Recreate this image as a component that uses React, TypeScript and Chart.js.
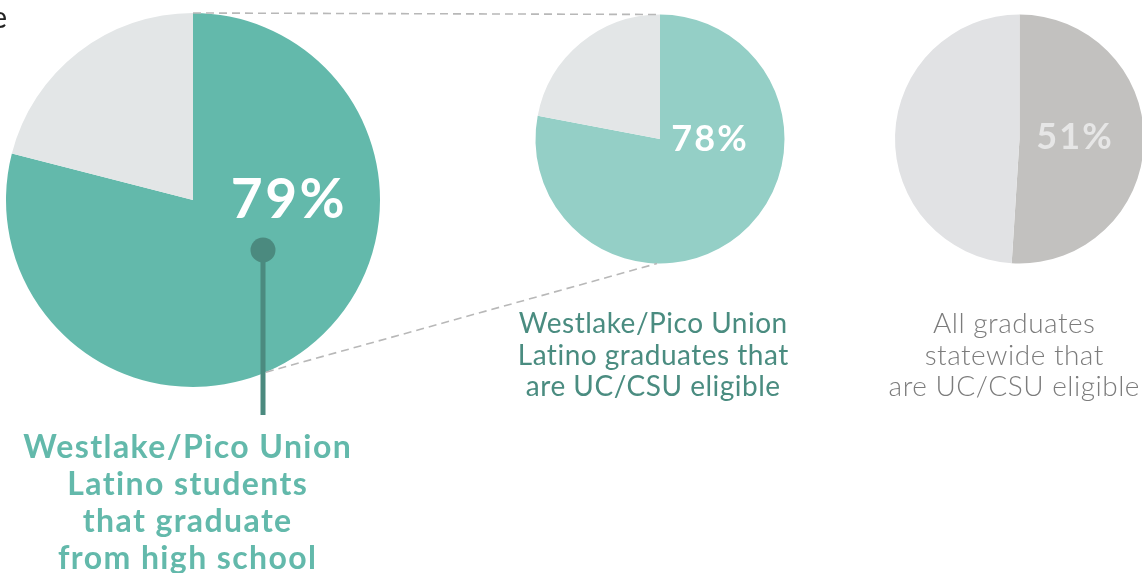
import React, { useEffect, useRef } from "react";
import { Chart, registerables } from "chart.js";

Chart.register(...registerables);

// ---- data ----
const categories = ["Yes", "No"];
const graduateValues = [79, 21];
const localEligibleValues = [78, 22];
const stateEligibleValues = [51, 49];
const centerLabels = ["79%", "78%", "51%"];
const graduateCaption = ["Westlake/Pico Union", "Latino students", "that graduate", "from high school"];
const localCaption = ["Westlake/Pico Union", "Latino graduates that", "are UC/CSU eligible"];
const stateCaption = ["All graduates", "statewide that", "are UC/CSU eligible"];
const headingFragment = "e";

// ---- layout ----
const W = 1142;
const H = 573;
const CW = 1160;
const P1 = { cx: 193, cy: 200, r: 187 };
const P2 = { cx: 660, cy: 139, r: 124.5 };
const P3 = { cx: 1019.5, cy: 139, r: 124.5 };
const FONT = "Lato, 'Noto Sans', sans-serif";

const pad = (p: { cx: number; cy: number; r: number }) => ({
  left: p.cx - p.r,
  top: p.cy - p.r,
  right: CW - (p.cx + p.r),
  bottom: H - (p.cy + p.r),
});

const arcOf = (chart: any) => {
  const a: any = chart.getDatasetMeta(0).data[0];
  return { x: a.x, y: a.y, r: a.outerRadius };
};

const setSpacing = (ctx: any, px: number) => {
  if ("letterSpacing" in ctx) ctx.letterSpacing = `${px}px`;
};

const drawLines = (ctx: CanvasRenderingContext2D, lines: string[], x: number, y0: number, step: number, sp: number) => {
  lines.forEach((t, i) => ctx.fillText(t, x + sp / 2, y0 + i * step));
};

const plugin1 = {
  id: "p1",
  afterDatasetsDraw(chart: any) {
    const ctx: CanvasRenderingContext2D = chart.ctx;
    const a = arcOf(chart);
    ctx.save();
    // heading fragment
    ctx.fillStyle = "#222";
    ctx.font = `400 30px ${FONT}`;
    ctx.textAlign = "right";
    ctx.textBaseline = "alphabetic";
    ctx.fillText(headingFragment, 7, 28);
    // center value
    ctx.fillStyle = "#ffffff";
    ctx.font = `700 55px ${FONT}`;
    ctx.textAlign = "center";
    setSpacing(ctx, 2.5);
    ctx.fillText(centerLabels[0], a.x + 96, a.y + 18);
    // pointer line + dot
    ctx.strokeStyle = "#4b8a7f";
    ctx.lineWidth = 5;
    ctx.beginPath();
    ctx.moveTo(a.x + 70, a.y + 50);
    ctx.lineTo(a.x + 70, a.y + a.r + 28);
    ctx.stroke();
    ctx.fillStyle = "#4b8a7f";
    ctx.beginPath();
    ctx.arc(a.x + 70, a.y + 50, 12.5, 0, Math.PI * 2);
    ctx.fill();
    // caption
    ctx.fillStyle = "#63b9ab";
    ctx.font = `700 32px ${FONT}`;
    setSpacing(ctx, 1.4);
    drawLines(ctx, graduateCaption, a.x - 6, 458, 37, 1.4);
    ctx.restore();
  },
};

const plugin2 = {
  id: "p2",
  afterDatasetsDraw(chart: any) {
    const ctx: CanvasRenderingContext2D = chart.ctx;
    const a = arcOf(chart);
    ctx.save();
    // connector dashed lines
    ctx.strokeStyle = "#b8b8b8";
    ctx.lineWidth = 1.6;
    ctx.setLineDash([8, 5]);
    ctx.beginPath();
    ctx.moveTo(P1.cx, P1.cy - P1.r);
    ctx.lineTo(a.x, a.y - a.r);
    const ang = Math.atan2(170, 72);
    ctx.moveTo(P1.cx + P1.r * Math.cos(ang), P1.cy + P1.r * Math.sin(ang));
    ctx.lineTo(a.x - 3, a.y + a.r);
    ctx.stroke();
    ctx.setLineDash([]);
    ctx.fillStyle = "#ffffff";
    ctx.font = `700 36px ${FONT}`;
    ctx.textAlign = "center";
    setSpacing(ctx, 2);
    ctx.fillText(centerLabels[1], a.x + 50, a.y + 12);
    ctx.fillStyle = "#4a8c80";
    ctx.font = `400 28px ${FONT}`;
    setSpacing(ctx, 0.5);
    drawLines(ctx, localCaption, a.x - 7, 333, 31.5, 0.5);
    ctx.restore();
  },
};

const plugin3 = {
  id: "p3",
  afterDatasetsDraw(chart: any) {
    const ctx: CanvasRenderingContext2D = chart.ctx;
    const a = arcOf(chart);
    ctx.save();
    ctx.fillStyle = "#e6e6e6";
    ctx.font = `700 36px ${FONT}`;
    ctx.textAlign = "center";
    setSpacing(ctx, 2);
    ctx.fillText(centerLabels[2], a.x + 55.5, a.y + 10);
    ctx.fillStyle = "#7c7c7c";
    ctx.font = `300 28px ${FONT}`;
    setSpacing(ctx, 0.5);
    drawLines(ctx, stateCaption, a.x - 5.5, 333, 31.5, 0.5);
    ctx.restore();
  },
};

const makeConfig = (values: number[], colors: string[], p: any, plugin: any): any => ({
  type: "pie",
  data: {
    labels: categories,
    datasets: [
      {
        data: values,
        backgroundColor: colors,
        borderWidth: 0,
        hoverBorderWidth: 0,
        hoverOffset: 0,
        offset: 0,
      },
    ],
  },
  options: {
    responsive: false,
    animation: false,
    events: [],
    layout: { padding: pad(p) },
    plugins: { legend: { display: false }, tooltip: { enabled: false } },
  },
  plugins: [plugin],
});

export default function App() {
  const c1 = useRef<HTMLCanvasElement>(null);
  const c2 = useRef<HTMLCanvasElement>(null);
  const c3 = useRef<HTMLCanvasElement>(null);

  useEffect(() => {
    const charts = [
      new Chart(c1.current!, makeConfig(graduateValues, ["#63b9ab", "#e3e6e7"], P1, plugin1)),
      new Chart(c2.current!, makeConfig(localEligibleValues, ["#94cfc6", "#e3e6e7"], P2, plugin2)),
      new Chart(c3.current!, makeConfig(stateEligibleValues, ["#c2c1bf", "#e1e2e4"], P3, plugin3)),
    ];
    return () => charts.forEach((c) => c.destroy());
  }, []);

  const cs: React.CSSProperties = { position: "absolute", left: 0, top: 0, width: CW, height: H };
  return (
    <div
      style={{
        position: "fixed",
        left: 0,
        top: 0,
        width: W,
        height: H,
        overflow: "hidden",
        background: "#ffffff",
      }}
    >
      <canvas ref={c1} width={CW} height={H} style={cs} />
      <canvas ref={c2} width={CW} height={H} style={cs} />
      <canvas ref={c3} width={CW} height={H} style={cs} />
    </div>
  );
}
